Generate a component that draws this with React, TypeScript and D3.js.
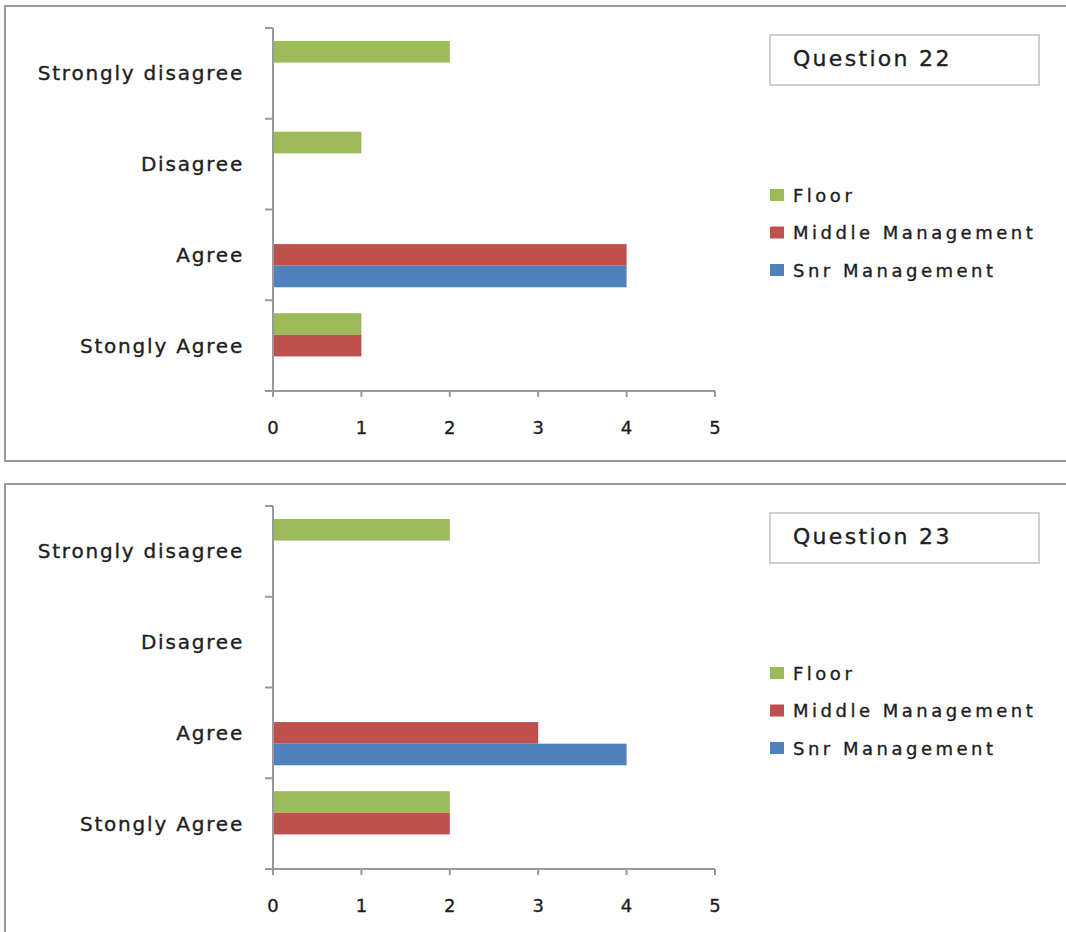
import React from "react";
import * as d3 from "d3";

// Response categories, top to bottom
const categories = ["Strongly disagree", "Disagree", "Agree", "Stongly Agree"];
// Series, in legend order (top to bottom)
const seriesNames = ["Floor", "Middle Management", "Snr Management"];
const seriesColors = ["#9BBB59", "#C0504D", "#4F81BD"];
const xTicks = [0, 1, 2, 3, 4, 5];

// Counts per category for each series — Question 22
const q22Floor = [2, 1, 0, 1];
const q22Middle = [0, 0, 4, 1];
const q22Snr = [0, 0, 4, 0];

// Counts per category for each series — Question 23
const q23Floor = [2, 0, 0, 2];
const q23Middle = [0, 0, 3, 2];
const q23Snr = [0, 0, 4, 0];

const panels = [
  { title: "Question 22", series: [q22Floor, q22Middle, q22Snr] },
  { title: "Question 23", series: [q23Floor, q23Middle, q23Snr] },
];

const FONT = "'DejaVu Sans', Verdana, sans-serif";
const TEXT = "#1e1e1e";
const AXIS = "#9a9a9a";

// shared text styling: slightly heavier strokes than the book weight
const textStyle = { stroke: TEXT, strokeWidth: 0.35 } as const;

function Panel({ title, series, top }: { title: string; series: number[][]; top: number }) {
  const x = d3.scaleLinear().domain([0, 5]).range([273, 715]);
  const y = d3.scaleBand<string>().domain(categories).range([28, 391]).paddingInner(0).paddingOuter(0);
  const sub = d3
    .scaleBand<string>()
    .domain(seriesNames)
    .range([0, y.bandwidth()])
    .paddingInner(0)
    .paddingOuter(0.6);

  const boundaries = categories.map((c) => y(c)!).concat([y.range()[1]]);

  return (
    <g transform={`translate(0,${top})`}>
      <rect x={5} y={6} width={1080} height={455} fill="#fff" stroke="#999" strokeWidth={2} />

      {/* bars */}
      {seriesNames.map((s, si) =>
        categories.map((c, ci) => {
          const v = series[si][ci];
          if (!v) return null;
          return (
            <rect
              key={s + c}
              x={x(0)}
              y={y(c)! + sub(s)!}
              width={x(v) - x(0)}
              height={sub.bandwidth()}
              fill={seriesColors[si]}
            />
          );
        })
      )}

      {/* category axis */}
      <line x1={x(0)} x2={x(0)} y1={y.range()[0]} y2={y.range()[1]} stroke={AXIS} strokeWidth={2} />
      {boundaries.map((b, i) => (
        <line key={i} x1={265} x2={x(0)} y1={b} y2={b} stroke={AXIS} strokeWidth={2} />
      ))}
      {categories.map((c) => (
        <text
          key={c}
          x={244}
          y={y(c)! + y.bandwidth() / 2}
          textAnchor="end"
          dominantBaseline="central"
          fontFamily={FONT}
          fontSize={20}
          letterSpacing={1.8}
          fill={TEXT}
          style={textStyle}
        >
          {c}
        </text>
      ))}

      {/* value axis */}
      <line x1={x(0)} x2={x(5)} y1={391} y2={391} stroke={AXIS} strokeWidth={2} />
      {xTicks.map((t) => (
        <g key={t}>
          <line x1={x(t)} x2={x(t)} y1={391} y2={397} stroke={AXIS} strokeWidth={2} />
          <text
            x={x(t)}
            y={427}
            textAnchor="middle"
            dominantBaseline="central"
            fontFamily={FONT}
            fontSize={18}
            fill={TEXT}
            style={textStyle}
          >
            {t}
          </text>
        </g>
      ))}

      {/* title box */}
      <rect x={770} y={35} width={269} height={50} fill="#fff" stroke="#cfcfcf" strokeWidth={2} />
      <text
        x={793}
        y={58}
        dominantBaseline="central"
        fontFamily={FONT}
        fontSize={22}
        letterSpacing={2.3}
        fill={TEXT}
        style={textStyle}
      >
        {title}
      </text>

      {/* legend */}
      {seriesNames.map((s, i) => {
        const cy = 195 + i * 37.5;
        return (
          <g key={s}>
            <rect x={770} y={cy - 6} width={14} height={12} fill={seriesColors[i]} />
            <text
              x={793}
              y={cy}
              dominantBaseline="central"
              fontFamily={FONT}
              fontSize={18}
              letterSpacing={3.5}
              fill={TEXT}
              style={textStyle}
            >
              {s}
            </text>
          </g>
        );
      })}
    </g>
  );
}

export default function App() {
  return (
    <svg
      width={1066}
      height={932}
      style={{ position: "absolute", left: 0, top: 0, background: "#fff" }}
    >
      {panels.map((p, i) => (
        <Panel key={p.title} title={p.title} series={p.series} top={i * 478} />
      ))}
    </svg>
  );
}
